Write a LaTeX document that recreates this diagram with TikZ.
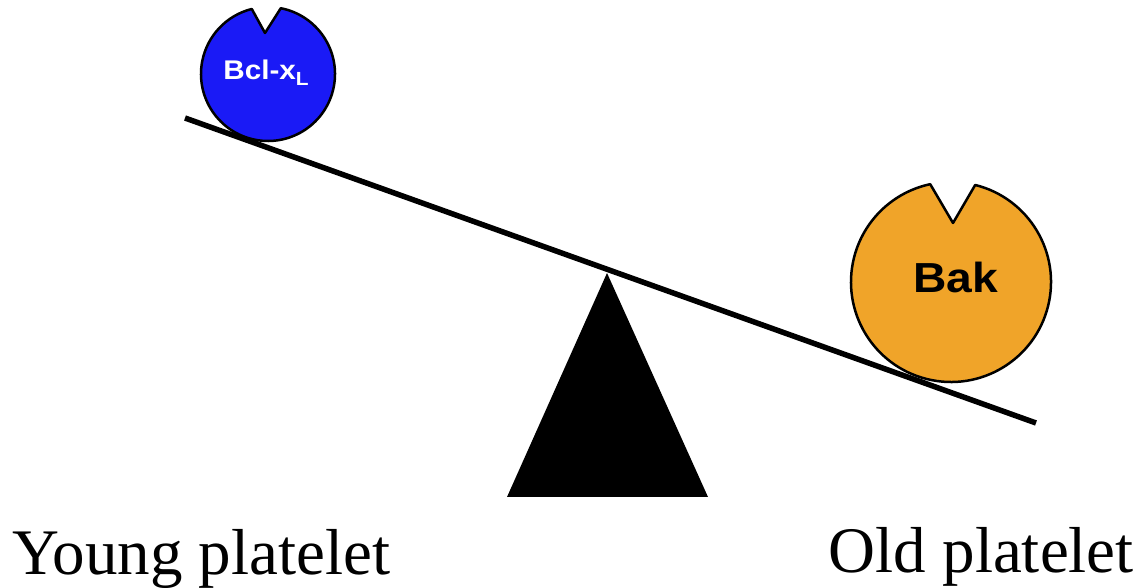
\documentclass[tikz,border=0pt]{standalone}
\usepackage{fontspec}
\setmainfont{Liberation Serif}
\newfontfamily\protfont{Liberation Sans}
\definecolor{bclblue}{RGB}{26,26,246}
\definecolor{bakorange}{RGB}{240,164,41}
\begin{document}
\begin{tikzpicture}[x=1pt,y=1pt,
  protein/.style={draw=black,line width=2.5pt,line join=round},
  beamline/.style={line width=5.5pt},
  protlabel/.style={font=\protfont\bfseries,inner sep=0pt,anchor=base},
  agelabel/.style={font=\fontsize{65}{72}\selectfont,inner sep=0pt}]
\useasboundingbox (0,0) rectangle (1139,588);
% beam
\coordinate (beamL) at (185,470);
\coordinate (beamR) at (1036,165);
\draw[beamline] (beamL) -- (beamR);
% fulcrum
\coordinate (fulA) at (607,315);
\coordinate (fulB) at (507,91);
\coordinate (fulC) at (708,91);
\fill[black] (fulA) -- (fulB) -- (fulC) -- cycle;
% Bcl-xL
\coordinate (bclC) at (268,514);
\coordinate (bclTip) at (265,555);
\fill[bclblue] (bclTip) -- ([shift={(79:67)}]bclC) arc[start angle=79,end angle=-256,radius=67] -- cycle;
\draw[protein] (bclTip) -- ([shift={(79:67)}]bclC) arc[start angle=79,end angle=-256,radius=67] -- cycle;
\node[protlabel,text=white,font=\protfont\bfseries\fontsize{27}{32}\selectfont,xscale=1.1] (bcl) at (266,508) {Bcl-x\raisebox{-0.22em}{\fontsize{19}{21}\selectfont L}};
% Bak
\coordinate (bakC) at (951,306);
\coordinate (bakTip) at (953,365);
\fill[bakorange] (bakTip) -- ([shift={(76:100)}]bakC) arc[start angle=76,end angle=-258,radius=100] -- cycle;
\draw[protein] (bakTip) -- ([shift={(76:100)}]bakC) arc[start angle=76,end angle=-258,radius=100] -- cycle;
\node[protlabel,text=black,font=\protfont\bfseries\fontsize{42}{48}\selectfont,xscale=1.1] (bak) at (956,295) {Bak};
% labels
\node[agelabel,anchor=base west] (young) at (12,13) {Young platelet};
\node[agelabel,anchor=base east] (old) at (1134,15) {Old platelet};
\end{tikzpicture}
\end{document}
